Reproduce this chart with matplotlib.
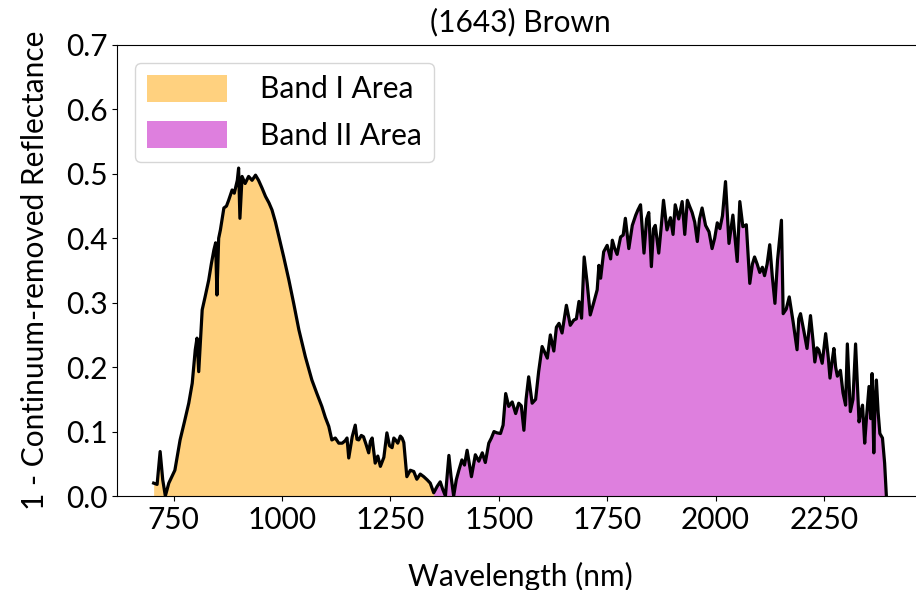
import matplotlib
matplotlib.use("Agg")
import matplotlib.pyplot as plt
import numpy as np

# Spectrum (wavelength in nm, 1 - continuum-removed reflectance).
wavelength = [
    704, 712, 719, 725, 731, 739, 753, 765, 775, 785, 793, 800, 804, 808, 816, 823,
    831, 837, 843, 847, 850, 854, 858, 866, 872, 877, 885, 890, 897, 900, 903, 908,
    915, 923, 931, 939, 946, 954, 962, 970, 977, 985, 993, 1004, 1016, 1027, 1039,
    1054, 1069, 1080, 1092, 1100, 1108, 1115, 1123, 1131, 1139, 1146, 1150, 1154,
    1162, 1169, 1173, 1177, 1183, 1188, 1194, 1200, 1204, 1208, 1215, 1221, 1227,
    1235, 1242, 1248, 1254, 1258, 1262, 1267, 1273, 1277, 1281, 1288, 1296, 1304,
    1311, 1319, 1327, 1335, 1342, 1350, 1358, 1365, 1371, 1377, 1385, 1390, 1396,
    1402, 1408, 1415, 1421, 1427, 1437, 1446, 1454, 1462, 1469, 1477, 1483, 1489,
    1496, 1504, 1510, 1516, 1523, 1531, 1539, 1546, 1552, 1558, 1563, 1569, 1577,
    1585, 1592, 1600, 1612, 1619, 1627, 1633, 1639, 1646, 1656, 1665, 1673, 1679,
    1685, 1691, 1697, 1704, 1711, 1719, 1727, 1731, 1735, 1742, 1750, 1758, 1762,
    1767, 1773, 1781, 1787, 1792, 1800, 1808, 1816, 1821, 1827, 1835, 1841, 1846,
    1852, 1857, 1861, 1869, 1875, 1880, 1888, 1896, 1902, 1907, 1915, 1923, 1929,
    1935, 1940, 1946, 1952, 1958, 1963, 1969, 1977, 1985, 1992, 1998, 2004, 2010,
    2016, 2023, 2031, 2040, 2050, 2056, 2063, 2071, 2079, 2085, 2090, 2096, 2102,
    2108, 2113, 2119, 2125, 2131, 2137, 2143, 2148, 2152, 2156, 2163, 2170, 2179,
    2188, 2192, 2196, 2204, 2211, 2219, 2225, 2229, 2234, 2238, 2246, 2254, 2260,
    2264, 2269, 2273, 2277, 2281, 2288, 2294, 2300, 2304, 2311, 2317, 2323, 2331,
    2335, 2339, 2344, 2348, 2354, 2358, 2361, 2365, 2368, 2371, 2375, 2379, 2385,
    2390, 2394,
]
reflectance = [
    0.020, 0.018, 0.069, 0.025, 0.000, 0.020, 0.040, 0.087, 0.115, 0.144, 0.175,
    0.227, 0.245, 0.193, 0.289, 0.310, 0.335, 0.360, 0.382, 0.393, 0.312, 0.400,
    0.413, 0.447, 0.450, 0.459, 0.475, 0.470, 0.490, 0.509, 0.431, 0.496, 0.485,
    0.496, 0.490, 0.498, 0.490, 0.478, 0.465, 0.455, 0.444, 0.425, 0.402, 0.371,
    0.335, 0.299, 0.258, 0.216, 0.180, 0.160, 0.139, 0.122, 0.108, 0.087, 0.090,
    0.082, 0.082, 0.086, 0.090, 0.059, 0.092, 0.110, 0.088, 0.087, 0.094, 0.092,
    0.080, 0.067, 0.085, 0.090, 0.051, 0.062, 0.046, 0.060, 0.098, 0.078, 0.075,
    0.090, 0.087, 0.082, 0.093, 0.090, 0.083, 0.030, 0.040, 0.038, 0.026, 0.034,
    0.030, 0.025, 0.020, 0.005, 0.015, 0.022, 0.010, 0.000, 0.063, 0.030, 0.000,
    0.025, 0.040, 0.056, 0.048, 0.071, 0.030, 0.064, 0.054, 0.067, 0.052, 0.082,
    0.090, 0.100, 0.098, 0.097, 0.110, 0.159, 0.139, 0.146, 0.128, 0.144, 0.140,
    0.102, 0.150, 0.185, 0.144, 0.150, 0.193, 0.232, 0.214, 0.250, 0.225, 0.262,
    0.268, 0.253, 0.296, 0.265, 0.273, 0.275, 0.302, 0.276, 0.371, 0.330, 0.281,
    0.300, 0.320, 0.358, 0.338, 0.379, 0.389, 0.368, 0.397, 0.385, 0.375, 0.402,
    0.405, 0.431, 0.384, 0.420, 0.436, 0.444, 0.452, 0.377, 0.430, 0.440, 0.356,
    0.415, 0.420, 0.377, 0.420, 0.459, 0.413, 0.432, 0.406, 0.452, 0.430, 0.457,
    0.406, 0.459, 0.450, 0.440, 0.425, 0.395, 0.430, 0.447, 0.420, 0.410, 0.384,
    0.400, 0.424, 0.415, 0.435, 0.488, 0.392, 0.436, 0.364, 0.457, 0.418, 0.421,
    0.330, 0.360, 0.371, 0.360, 0.347, 0.355, 0.342, 0.360, 0.390, 0.340, 0.299,
    0.366, 0.400, 0.428, 0.283, 0.290, 0.309, 0.270, 0.227, 0.275, 0.283, 0.255,
    0.229, 0.280, 0.240, 0.208, 0.230, 0.227, 0.206, 0.252, 0.215, 0.183, 0.210,
    0.229, 0.200, 0.186, 0.195, 0.160, 0.141, 0.236, 0.131, 0.150, 0.236, 0.115,
    0.130, 0.141, 0.082, 0.120, 0.170, 0.120, 0.190, 0.067, 0.150, 0.180, 0.130,
    0.097, 0.090, 0.051, 0.000,
]
band_edge = 1350  # boundary between Band I and Band II areas

plt.rcParams["font.family"] = ["Lato", "DejaVu Sans"]
plt.rcParams["font.size"] = 21.5

wl = np.array(wavelength)
r = np.array(reflectance)

fig = plt.figure(figsize=(9.16, 5.9), dpi=100)
ax = fig.add_axes([117 / 916, 1 - 496 / 590, 806 / 916, 451 / 590])

ax.fill_between(wl, r, 0, where=wl <= band_edge, color="orange", alpha=0.5,
                linewidth=0, label="Band I Area")
ax.fill_between(wl, r, 0, where=wl >= band_edge, color="m", alpha=0.5,
                linewidth=0, label="Band II Area")
ax.plot(wl, r, color="black", linewidth=2.3)

ax.set_ylim(0, 0.7)
ax.set_xticks([750, 1000, 1250, 1500, 1750, 2000, 2250])
ax.set_xlabel("Wavelength (nm)", labelpad=20)
ax.set_ylabel("1 - Continuum-removed Reflectance", labelpad=12)
ax.set_title("(1643) Brown", fontsize=21.5, pad=10)
ax.legend(loc="upper left", handlelength=2.7, handleheight=1.0,
          handletextpad=1.1, borderaxespad=0.6, labelspacing=0.6)

fig.savefig("out.png", dpi=100)
